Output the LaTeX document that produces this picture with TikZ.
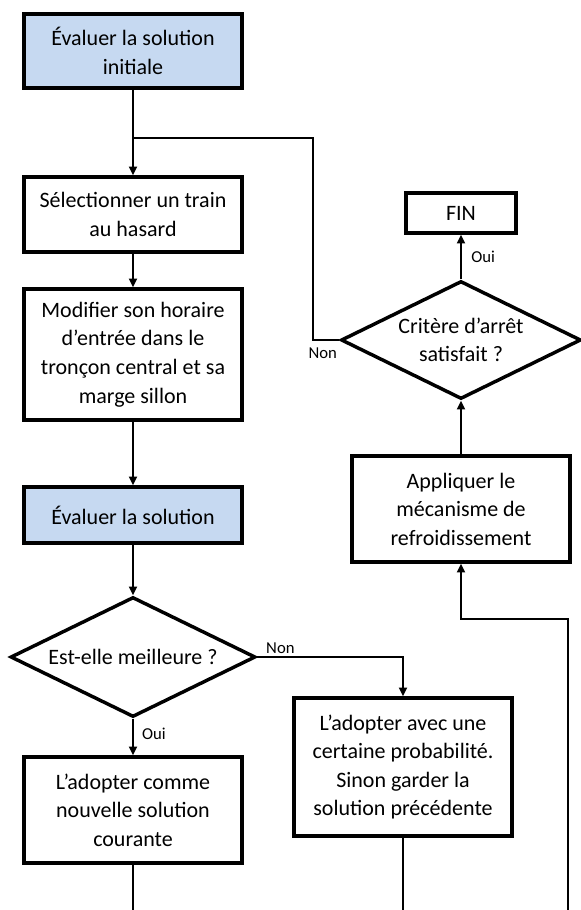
\documentclass[tikz,border=0pt]{standalone}
\usepackage{fontspec}
\setmainfont{Carlito}
\usepackage{tikz}
\usetikzlibrary{arrows,positioning,shapes.geometric,arrows.meta,calc}
\definecolor{evalblue}{HTML}{C6D9F1}

\begin{document}
\begin{tikzpicture}[x=0.75pt,y=-0.75pt]
    \tikzset{block/.style = {shape=rectangle, draw, line width=2.6pt, minimum width=163.5pt, inner sep=0pt, align=center, font=\fontsize{16.5}{21.4}\selectfont}}
    \tikzset{blockblue/.style = {block, fill=evalblue}}
    \tikzset{decision/.style = {shape=diamond, aspect=2, draw, line width=2.6pt, inner sep=0pt, align=center, font=\fontsize{16.5}{21.4}\selectfont}}
    \tikzset{edge/.style = {-{Triangle[length=6.5pt,width=6pt]}, line width=1.5pt}}
    \tikzset{edgeun/.style = {-, line width=1.5pt}}
    \tikzset{lbl/.style = {font=\fontsize{12.5}{15}\selectfont, inner sep=1pt}}

    \useasboundingbox (0,0) rectangle (581,910);

    \node[blockblue, minimum height=55.5pt] (eval0) at (133, 51) {Évaluer la solution\\initiale};
    \node[block, minimum height=56.25pt] (select) at (133, 214.5) {Sélectionner un train\\au hasard};
    \node[block, minimum height=98.25pt] (modif) at (133, 354.5) {Modifier son horaire\\d’entrée dans le\\tronçon central et sa\\marge sillon};
    \node[blockblue, minimum height=42pt] (eval) at (133, 515) {Évaluer la solution};
    \node[decision, minimum width=183.75pt, minimum height=90pt] (better) at (133, 657) {Est-elle meilleure ?};
    \node[block, minimum height=79.5pt] (adopt) at (133, 810) {L’adopter comme\\nouvelle solution\\courante};
    \node[block, minimum height=103.5pt] (adoptprob) at (403, 767) {L’adopter avec une\\certaine probabilité.\\Sinon garder la\\solution précédente};
    \node[block, minimum height=79.5pt] (cool) at (461, 509) {Appliquer le\\mécanisme de\\refroidissement};
    \node[decision, minimum width=180pt, minimum height=88.5pt] (stop) at (461, 340) {Critère d’arrêt\\satisfait ?};
    \node[block, minimum width=82.5pt, minimum height=30pt] (fin) at (461, 213) {FIN};

    \coordinate (join) at (133, 138);
    \coordinate (bendL) at (313, 340);
    \coordinate (bendC) at (568, 619);
    \coordinate (outA) at (133, 910);
    \coordinate (outB) at (403, 910);
    \coordinate (outC) at (568, 910);

    \draw[edge] (eval0) -- (select);
    \draw[edge] (select) -- (modif);
    \draw[edge] (modif) -- (eval);
    \draw[edge] (eval) -- (better);
    \draw[edge] (better) -- node[lbl, right, pos=0.4, xshift=5pt] {Oui} (adopt);
    \draw[edge] (better.east) node[lbl, anchor=south west, xshift=5pt, yshift=1pt] {Non} -| (adoptprob.north);
    \draw[edgeun] (adopt) -- (outA);
    \draw[edgeun] (adoptprob) -- (outB);
    \draw[edge] (outC) -- (bendC) -| (cool.south);
    \draw[edge] (cool) -- (stop);
    \draw[edge] (stop) -- node[lbl, right, xshift=6pt] {Oui} (fin);
    \draw[edgeun] (stop.west) node[lbl, anchor=north east, yshift=-4pt] {Non} -- (bendL) |- (join);

\end{tikzpicture}
\end{document}
